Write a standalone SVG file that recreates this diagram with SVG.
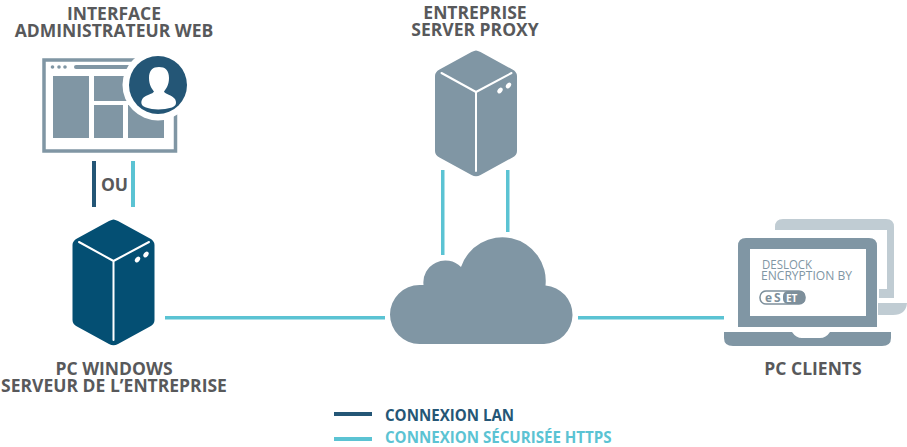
<svg xmlns="http://www.w3.org/2000/svg" xmlns:xlink="http://www.w3.org/1999/xlink" width="907" height="447" viewBox="0 0 907 447">
<style>
.lbl{font-family:"Open Sans","Noto Sans",sans-serif;font-weight:700;font-size:17.5px;fill:#58595b;text-anchor:middle}
.leg{font-family:"Open Sans","Noto Sans",sans-serif;font-weight:700;font-size:15.1px}
.g{fill:#8096a4}
.d{fill:#245676}
.t{fill:#5bc3d3}
.scr{font-family:"Open Sans","Noto Sans",sans-serif;font-size:12px;fill:#8096a4}
</style>
<defs>
<g id="srv">
<path d="M113.5 219.5Q115 219.5 118 221L150 238.500Q154.500 241 154.500 245V320Q154.500 324 150 326.500L118 344Q113.500 346.500 109 344L77 326.500Q72.500 324 72.500 320V245Q72.500 241 77 238.500L109 221Q112 219.500 113.500 219.500Z"/>
<path d="M79 242L113.500 261L149 242M113.500 261V340" fill="none" stroke="#fff" stroke-width="2" stroke-linecap="round"/>
<ellipse cx="137.500" cy="259.500" rx="2.200" ry="3.200" transform="rotate(40 137.500 259.500)" fill="#fff"/>
<ellipse cx="146" cy="254.500" rx="2.200" ry="3.200" transform="rotate(40 146 254.500)" fill="#fff"/>
</g>
</defs>
<g id="connectors">
<rect class="d" x="92" y="161" width="4" height="46"/>
<rect class="t" x="131" y="161" width="4" height="46"/>
<rect class="t" x="165" y="316" width="220" height="3.500"/>
<rect class="t" x="578" y="316" width="146" height="3.500"/>
<rect class="t" x="441" y="170" width="3.500" height="85"/>
<rect class="t" x="506" y="170" width="3.500" height="62"/>
</g>
<g id="web-admin">
<text class="lbl"><tspan x="114" y="20">INTERFACE</tspan><tspan x="114" y="37">ADMINISTRATEUR WEB</tspan></text>
<rect x="44" y="60" width="131.500" height="91" fill="#fff" stroke="#8096a4" stroke-width="3.500"/>
<circle class="g" cx="52.500" cy="67" r="1.800"/><circle class="g" cx="59" cy="67" r="1.800"/><circle class="g" cx="65" cy="67" r="1.800"/>
<rect class="g" x="74" y="65" width="60" height="4" rx="2"/>
<rect class="g" x="53" y="76" width="36" height="62"/>
<rect class="g" x="94" y="76" width="34" height="25"/>
<rect class="g" x="94" y="105" width="29" height="33"/>
<rect class="g" x="128" y="105" width="36" height="33"/>
<circle cx="158" cy="85" r="35.500" fill="#fff"/>
<circle class="d" cx="158" cy="85" r="29"/>
<path d="M149 78C149 70 153 67 159 67C165 67 169 70 169 78C169 85 166 89 164 91.500C165 94 172 95 175 99C177 103 176 106 172 107.500C163 110 153 110 146 107.500C141 106 140 102 143 98C146 95 153 94 154 91.500C152 89 149 85 149 78Z" fill="#fff"/>
</g>
<text id="ou" class="lbl" x="114.500" y="191">OU</text>
<g id="pc-windows">
<use xlink:href="#srv" href="#srv" fill="#044f73"/>
<text class="lbl"><tspan x="114" y="375">PC WINDOWS</tspan><tspan x="114" y="392">SERVEUR DE L’ENTREPRISE</tspan></text>
</g>
<g id="proxy">
<use xlink:href="#srv" href="#srv" fill="#8096a4" transform="translate(362.500 -169)"/>
<text class="lbl"><tspan x="475" y="19">ENTREPRISE</tspan><tspan x="475" y="36">SERVER PROXY</tspan></text>
</g>
<g id="cloud">
<path class="g" d="M419.500 344A29.500 29.500 0 0 1 419.500 285H423.500A22 22 0 0 1 461 267A43.500 43.500 0 0 1 545.500 285.500A29.300 29.300 0 0 1 544 344Z"/>
</g>
<g id="pc-clients">
<path d="M775 230V227Q775 219 783 219H886Q894 219 894 227V298H879V289H887V230Z" fill="#c0ccd3"/>
<path d="M878 303H907Q906 315 893 315H878Z" fill="#c0ccd3"/>
<path class="g" d="M746 238H869Q877 238 877 246V327H738V246Q738 238 746 238Z"/>
<rect x="750" y="249" width="116" height="67" fill="#fff"/>
<path class="g" d="M724 332H792Q796 338 802 338H820Q826 338 830 332H891V338Q891 346 882 346H733Q724 346 724 338Z"/>
<text class="scr" x="762" y="269" textLength="50" lengthAdjust="spacingAndGlyphs">DESLOCK</text>
<text class="scr" x="761" y="280" textLength="91" lengthAdjust="spacingAndGlyphs">ENCRYPTION BY</text>
<rect x="760" y="291" width="45" height="13" rx="6" fill="#fff" stroke="#7d8f9b" stroke-width="1.500"/>
<rect x="783" y="291" width="22" height="13" rx="5" fill="#7d8f9b"/>
<text x="765" y="302" font-family="Open Sans,sans-serif" font-weight="700" font-size="12" letter-spacing="2" fill="#7d8f9b">eS</text>
<text x="786" y="302" font-family="Open Sans,sans-serif" font-weight="700" font-size="10" fill="#fff">ET</text>
<text class="lbl" x="813" y="375">PC CLIENTS</text>
</g>
<g id="legend">
<rect class="d" x="334" y="412" width="38" height="4"/>
<rect class="t" x="334" y="437" width="38" height="4"/>
<text class="leg" x="385" y="421" fill="#245676">CONNEXION LAN</text>
<text class="leg" x="385" y="443" fill="#5bc3d3">CONNEXION SÉCURISÉE HTTPS</text>
</g>
</svg>
